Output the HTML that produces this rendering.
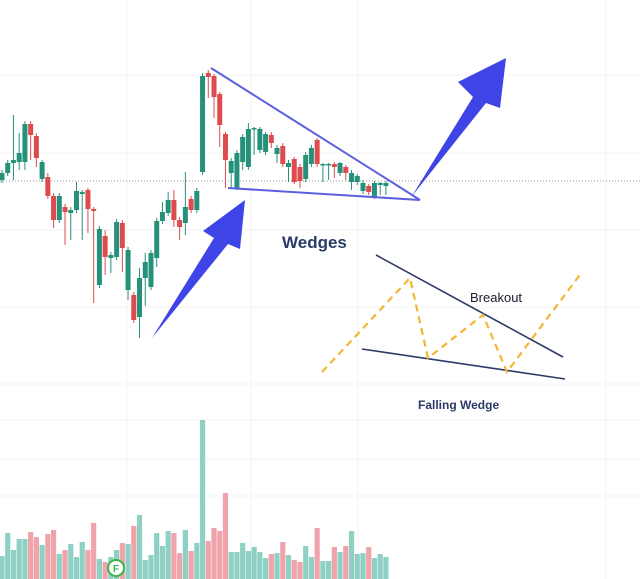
<!DOCTYPE html>
<html><head><meta charset="utf-8"><style>
html,body{margin:0;padding:0;background:#fff;}
svg{display:block;font-family:"Liberation Sans",sans-serif;}
</style></head><body>
<svg id="chart" width="640" height="579" viewBox="0 0 640 579" xmlns="http://www.w3.org/2000/svg">
<g id="grid" stroke="#f3f3f3" stroke-width="1">
<line x1="0" y1="75" x2="640" y2="75"/><line x1="0" y1="153" x2="640" y2="153"/>
<line x1="0" y1="230" x2="640" y2="230"/><line x1="0" y1="307" x2="640" y2="307"/>
<line x1="0" y1="384" x2="640" y2="384"/><line x1="0" y1="420" x2="640" y2="420"/>
<line x1="0" y1="459" x2="640" y2="459"/><line x1="0" y1="496" x2="640" y2="496"/>
<line x1="127" y1="0" x2="127" y2="579"/><line x1="251" y1="0" x2="251" y2="579"/>
<line x1="358" y1="0" x2="358" y2="579"/><line x1="606" y1="0" x2="606" y2="579"/>
</g>
<line x1="0" y1="181" x2="640" y2="181" stroke="#999" stroke-width="1" stroke-dasharray="1,2"/>
<g id="vol"></g>
<g id="candles"></g>
<g stroke="#5b5fe0" stroke-width="2">
<line x1="211" y1="68" x2="420" y2="200"/><line x1="228" y1="188" x2="420" y2="200"/>
</g>
<polygon fill="#3f44e6" points="152,338 214,238 203,231 245,200 240,249 228,244"/>
<polygon fill="#3f44e6" points="412,196 473,97 458,82 506,58 500,108 486,103"/>
<text x="282" y="248" font-size="17" font-weight="bold" fill="#2b3a67">Wedges</text>
<g>
<line x1="376" y1="255" x2="563" y2="357" stroke="#2b3a67" stroke-width="1.6"/>
<line x1="362" y1="349" x2="565" y2="379" stroke="#2b3a67" stroke-width="1.6"/>
<polyline fill="none" stroke="#f2b632" stroke-width="2.2" stroke-dasharray="7,5" points="322,372 410,278 428,358 483,315 507,372 582,272"/>
<text x="470" y="302" font-size="13" fill="#1a1a2e">Breakout</text>
<text x="418" y="409" font-size="12" font-weight="bold" fill="#2b3a67">Falling Wedge</text>
</g>
<g>
<circle cx="116" cy="568" r="8" fill="#fff" stroke="#3cb44a" stroke-width="2"/>
<text x="116" y="572" font-size="10" font-weight="bold" fill="#3cb44a" text-anchor="middle">F</text>
</g>
</svg>
<script>
const opens=[220,227,237,238,238,276,264,221,223,204,180,193,187,190,206,210,191,115,164,142,143,177,110,105,83,122,113,142,179,187,200,180,177,201,190,228,327,324,306,266,227,212,238,233,271,250,248,265,246,254,233,241,233,221,236,260,235,235,236,227,233,218,218,209,214,202,215,214];
const closes=[227,237,240,247,276,265,242,238,204,180,204,188,190,209,208,191,189,171,143,145,178,152,150,80,122,138,147,179,188,200,180,173,193,190,209,324,323,303,275,240,239,247,263,271,272,271,266,257,252,236,237,218,219,245,252,236,236,236,233,237,227,227,224,217,208,217,217,217];
const highs=[230,240,285,267,279,279,267,240,227,207,207,196,193,218,210,212,193,174,170,148,181,180,153,108,132,147,150,182,198,208,210,183,228,204,212,327,330,326,308,268,242,250,266,277,273,273,268,268,255,257,240,243,236,248,255,262,237,237,238,238,235,230,226,220,216,219,218,219];
const lows=[217,224,220,230,230,240,233,218,201,172,177,155,160,187,160,167,97,112,125,127,140,128,100,77,62,94,110,133,176,184,173,160,165,187,187,225,302,282,253,212,212,210,230,230,245,247,245,252,237,233,218,216,212,218,233,233,218,220,222,224,220,210,215,206,205,201,205,205];
const volumes=[23,46,29,40,40,47,42,34,45,49,25,29,35,22,37,29,56,20,17,22,29,36,35,53,64,19,24,46,33,48,46,26,49,28,36,159,38,51,48,86,27,27,36,28,32,27,21,25,26,37,24,19,17,33,22,51,18,18,32,27,33,48,25,26,32,21,25,22];
function xAt(i){return 2+i*5.73;}
function yPrice(p){return 400-p;}
function yVol(v){return 579-v;}
const NS="http://www.w3.org/2000/svg";
const cg=document.getElementById('candles'), vg=document.getElementById('vol');
for(let i=0;i<opens.length;i++){
  const up=closes[i]>=opens[i];
  const col=up?'#26917a':'#dd4b4f';
  const x=xAt(i);
  const w=document.createElementNS(NS,'line');
  
  
  w.setAttribute('x1',x);w.setAttribute('x2',x);
  w.setAttribute('y1',yPrice(highs[i]));w.setAttribute('y2',yPrice(lows[i]));
  w.setAttribute('stroke',col);w.setAttribute('stroke-width','1');
  cg.appendChild(w);
  const b=document.createElementNS(NS,'rect');
  
  
  const t=yPrice(Math.max(opens[i],closes[i])), bt=yPrice(Math.min(opens[i],closes[i]));
  b.setAttribute('x',x-2.5);b.setAttribute('width',5);
  b.setAttribute('y',t);b.setAttribute('height',Math.max(1.5,bt-t));
  b.setAttribute('fill',col);
  cg.appendChild(b);
}
for(let i=0;i<volumes.length;i++){
  const up=i<opens.length?closes[i]>=opens[i]:true;
  const r=document.createElementNS(NS,'rect');
  
  
  r.setAttribute('x',xAt(i)-2.6);r.setAttribute('width',5.2);
  r.setAttribute('y',yVol(volumes[i]));r.setAttribute('height',volumes[i]);
  r.setAttribute('fill',up?'#8fd0c4':'#efa3ab');
  vg.appendChild(r);
}
</script>
</body></html>
